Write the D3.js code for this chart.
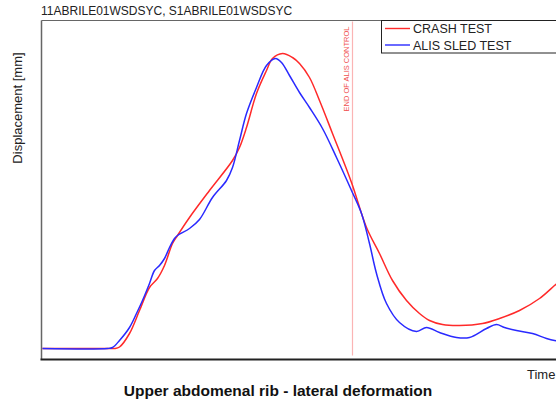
<!DOCTYPE html>
<html>
<head>
<meta charset="utf-8">
<script src="https://cdn.jsdelivr.net/npm/d3@7"></script>
<style>
  body { margin: 0; background: #fff; }
  svg { display: block; font-family: Arial, "Liberation Sans", sans-serif; }
</style>
</head>
<body>
<svg id="chart" width="556" height="401"></svg>
<script>
// series: time (arbitrary units) and displacement (mm)
const crashTime = [0, 13.6, 14.6, 15.6, 17.6, 19.6, 21.6, 23.2, 24.6, 26.2, 27.2, 29.6, 33.6, 38.2, 39.6, 41,
  43, 45, 46.2, 48.2, 50.2, 51.6, 53.6, 55.6, 58.2, 62, 65, 67.6, 70.2, 73, 75.6, 77.6, 80.2, 83.6, 88.2,
  91.6, 95.6, 99.6, 102.6, 104.6];
const crashDisp = [0.2, 0.2, 0.2, 0.5, 3.2, 7.8, 12.4, 14.2, 16.8, 21.2, 22.8, 26.4, 31.8, 37.8, 40.4, 44.4,
  51.2, 55.8, 58.2, 59.2, 58.4, 57.2, 54.4, 49.8, 43.2, 33.4, 24.4, 19.2, 13.8, 9.8, 7.2, 5.8, 5, 4.8, 5.2,
  6.2, 7.8, 10.2, 12.8, 14.6];

const sledTime = [0, 13.2, 14.2, 15.6, 17.6, 19, 20.2, 21.6, 22.6, 23.6, 24.6, 25.6, 26.6, 27.2, 29.6, 31.6,
  34.2, 37, 38.2, 39.6, 41, 43, 45, 46.8, 48, 49.6, 51.6, 53.6, 56.2, 59, 62, 64, 65.6, 67, 69, 71.6, 75,
  77, 79.6, 83, 85.6, 89, 91, 92.6, 95, 98.2, 101, 102.6, 104.6];
const sledDisp = [0.2, 0.2, 0.4, 1.8, 4.4, 7.2, 9.8, 13.2, 15.8, 16.8, 18.2, 20.4, 22.2, 22.8, 24.2, 26,
  30.4, 33.8, 36.4, 41.8, 47.2, 52.4, 56.8, 58.2, 57.4, 54.8, 51.4, 48.4, 44.2, 38.4, 31.8, 27.2, 21.2,
  15.2, 9.2, 5.4, 3.6, 4.4, 3.4, 2.4, 2.4, 4.2, 5, 4.4, 3.8, 3.2, 2.2, 1.8, 1.6];

const seriesNames = ["CRASH TEST", "ALIS SLED TEST"];
const seriesColors = ["#ff2a2a", "#2a2aff"];
const endOfControl = 62.2;

const svg = d3.select("#chart");
const pLeft = 41.5, pTop = 20.5, pBottom = 359.5, pRight = 580;

const x = d3.scaleLinear().domain([0, 107.7]).range([pLeft, pRight]);
const y = d3.scaleLinear().domain([-2, 65.8]).range([pBottom, pTop]);

// frame
svg.append("line").attr("x1", pLeft).attr("x2", pRight).attr("y1", pTop).attr("y2", pTop)
  .attr("stroke", "#666").attr("stroke-width", 1);
svg.append("line").attr("x1", pLeft).attr("x2", pLeft).attr("y1", pTop).attr("y2", pBottom)
  .attr("stroke", "#666").attr("stroke-width", 1.5);
svg.append("line").attr("x1", pLeft - 1).attr("x2", pRight).attr("y1", pBottom).attr("y2", pBottom)
  .attr("stroke", "#222").attr("stroke-width", 2);

// end of ALIS control marker
svg.append("line")
  .attr("x1", x(endOfControl)).attr("x2", x(endOfControl))
  .attr("y1", pTop + 1).attr("y2", pBottom - 4)
  .attr("stroke", "#fbb4b4").attr("stroke-width", 1.2);
svg.append("text")
  .attr("transform", `translate(${x(endOfControl) - 3.5},${pTop + 6}) rotate(-90)`)
  .attr("text-anchor", "end")
  .attr("font-size", 7.5)
  .attr("fill", "#f05050")
  .text("END OF ALIS CONTROL");

// curves
const line = d3.line().curve(d3.curveCatmullRom.alpha(0.5)).x(d => x(d[0])).y(d => y(d[1]));
const series = [d3.zip(crashTime, crashDisp), d3.zip(sledTime, sledDisp)];
svg.append("defs").append("clipPath").attr("id", "clip")
  .append("rect").attr("x", pLeft + 1).attr("y", pTop + 1).attr("width", pRight - pLeft).attr("height", pBottom - pTop - 2);
svg.append("g").attr("clip-path", "url(#clip)")
  .selectAll("path").data(series).join("path")
  .attr("d", line)
  .attr("fill", "none")
  .attr("stroke", (d, i) => seriesColors[i])
  .attr("stroke-width", 1.5);

// legend
const lg = svg.append("g");
lg.append("rect").attr("x", 381.5).attr("y", pTop).attr("width", 200).attr("height", 32.5)
  .attr("fill", "#fff").attr("stroke", "#222").attr("stroke-width", 1);
seriesNames.forEach((name, i) => {
  const ly = 28.5 + i * 16.5;
  lg.append("line").attr("x1", 385).attr("x2", 410).attr("y1", ly).attr("y2", ly)
    .attr("stroke", seriesColors[i]).attr("stroke-width", 1.4);
  lg.append("text").attr("x", 413).attr("y", ly + 4.5).attr("font-size", 12.5).attr("fill", "#222").text(name);
});

// texts
svg.append("text").attr("x", 41).attr("y", 15).attr("font-size", 12).attr("fill", "#222")
  .text("11ABRILE01WSDSYC, S1ABRILE01WSDSYC");
svg.append("text")
  .attr("transform", "translate(22,108) rotate(-90)")
  .attr("text-anchor", "middle").attr("font-size", 13).attr("fill", "#222")
  .text("Displacement [mm]");
svg.append("text").attr("x", 527).attr("y", 379).attr("font-size", 13).attr("fill", "#222").text("Time");
svg.append("text").attr("x", 278).attr("y", 396).attr("text-anchor", "middle")
  .attr("font-size", 15.5).attr("font-weight", "bold").attr("fill", "#111")
  .text("Upper abdomenal rib - lateral deformation");
</script>
</body>
</html>
